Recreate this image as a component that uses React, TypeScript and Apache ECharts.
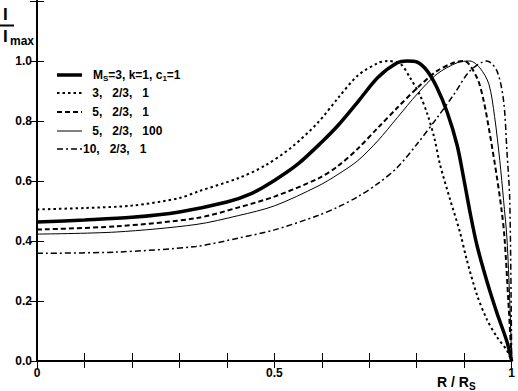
import React, { useEffect, useRef } from "react";
import * as echarts from "echarts";

// ---- data (x = R/Rs, y = I/Imax) ----
const curveMs3k1: [number, number][] = [
  [0, 0.463], [0.1, 0.47], [0.2, 0.479], [0.3, 0.497], [0.4, 0.53], [0.45, 0.557],
  [0.5, 0.602], [0.55, 0.657], [0.6, 0.73], [0.634, 0.785], [0.676, 0.864],
  [0.718, 0.945], [0.759, 0.994], [0.78, 1.0], [0.801, 0.996], [0.822, 0.967],
  [0.843, 0.91], [0.864, 0.83], [0.885, 0.72], [0.9, 0.6], [0.913, 0.49],
  [0.927, 0.385], [0.948, 0.265], [0.969, 0.16], [0.99, 0.065], [1, 0],
];
const curve3: [number, number][] = [
  [0, 0.505], [0.1, 0.51], [0.2, 0.518], [0.3, 0.543], [0.341, 0.566], [0.425, 0.61],
  [0.48, 0.651], [0.536, 0.712], [0.592, 0.795], [0.634, 0.876], [0.676, 0.952],
  [0.718, 0.993], [0.738, 1.0], [0.766, 0.99], [0.786, 0.944], [0.807, 0.885],
  [0.822, 0.825], [0.837, 0.744], [0.849, 0.655], [0.87, 0.54], [0.891, 0.43],
  [0.905, 0.34], [0.927, 0.22], [0.948, 0.138], [0.969, 0.08], [0.99, 0.035], [1, 0],
];
const curve5: [number, number][] = [
  [0, 0.438], [0.167, 0.449], [0.335, 0.476], [0.425, 0.512], [0.5, 0.548],
  [0.592, 0.608], [0.634, 0.65], [0.676, 0.708], [0.718, 0.777], [0.759, 0.844],
  [0.801, 0.91], [0.843, 0.967], [0.879, 0.995], [0.9, 1.0], [0.927, 0.944],
  [0.941, 0.867], [0.954, 0.757], [0.969, 0.612], [0.979, 0.5], [0.985, 0.41],
  [0.993, 0.2], [1, 0],
];
const curve5c100: [number, number][] = [
  [0, 0.423], [0.167, 0.43], [0.335, 0.455], [0.425, 0.485], [0.5, 0.517],
  [0.592, 0.583], [0.634, 0.622], [0.676, 0.668], [0.718, 0.734], [0.759, 0.811],
  [0.801, 0.89], [0.843, 0.957], [0.885, 0.994], [0.912, 1.0], [0.933, 0.977],
  [0.952, 0.923], [0.964, 0.815], [0.975, 0.668], [0.983, 0.535], [0.99, 0.41],
  [0.996, 0.2], [1, 0],
];
const curve10: [number, number][] = [
  [0, 0.359], [0.167, 0.363], [0.335, 0.382], [0.425, 0.41], [0.5, 0.437],
  [0.592, 0.485], [0.634, 0.513], [0.676, 0.548], [0.718, 0.591], [0.759, 0.645],
  [0.801, 0.724], [0.843, 0.811], [0.879, 0.89], [0.912, 0.967], [0.948, 1.0],
  [0.969, 0.967], [0.983, 0.867], [0.99, 0.7], [0.996, 0.535], [1, 0],
];

const xLabelValues = [0, 0.5, 1];
const xLabelTexts = ["0", "0.5", "1"];
const legendTexts = [
  "{a|M}{s|S}{a|=3, k=1, c}{s|1}{a|=1}",
  "{a| 3,   2/3,   1}",
  "{a| 5,   2/3,   1}",
  "{a| 5,   2/3,   100}",
  "{a|10,   2/3,   1}",
];

const FONT = "'Liberation Sans', Arial, sans-serif";

export default function App() {
  const ref = useRef<HTMLDivElement>(null);
  useEffect(() => {
    if (!ref.current) return;
    const chart = echarts.init(ref.current, undefined, { renderer: "svg" });

    const styles = [
      { width: 3.5, type: "solid" as any },
      { width: 2, type: [2.5, 3] as any },
      { width: 2, type: [5, 3] as any },
      { width: 1, type: "solid" as any },
      { width: 1.5, type: [6, 3, 2, 3] as any },
    ];
    const datasets = [curveMs3k1, curve3, curve5, curve5c100, curve10];

    const series = datasets.map((d, i) => ({
      type: "line",
      data: d,
      showSymbol: false,
      smooth: 0.3,
      xAxisIndex: 0,
      yAxisIndex: 0,
      lineStyle: { color: "#000", width: styles[i].width, type: styles[i].type, cap: "butt" },
      silent: true,
    }));

    const legendRowsY = [75, 93, 112, 131, 149];
    const legendTextX = [93, 89, 89, 89, 83];
    const legendGraphics: any[] = [];
    legendRowsY.forEach((y, i) => {
      legendGraphics.push({
        type: "line",
        shape: { x1: 57, y1: y, x2: 82, y2: y },
        style: {
          stroke: "#000",
          lineWidth: styles[i].width,
          lineDash: Array.isArray(styles[i].type) ? styles[i].type : null,
        },
      });
      legendGraphics.push({
        type: "text",
        x: legendTextX[i],
        y: y,
        style: {
          text: legendTexts[i],
          verticalAlign: "middle",
          rich: {
            a: { font: `bold 12px ${FONT}`, fill: "#000" },
            s: { font: `bold 8px ${FONT}`, fill: "#000", padding: [6, 0, 0, 0] },
          },
        },
      });
    });

    chart.setOption({
      animation: false,
      backgroundColor: "#fff",
      grid: { left: 37, right: 2, top: 1, bottom: 30, containLabel: false },
      xAxis: [
        {
          type: "value",
          min: 0,
          max: 1,
          interval: 0.1,
          position: "bottom",
          axisLine: { lineStyle: { color: "#000", width: 2 } },
          axisTick: { inside: true, length: 8, lineStyle: { color: "#000", width: 1 } },
          splitLine: { show: false },
          axisLabel: {
            color: "#000",
            fontWeight: "bold",
            fontSize: 12,
            fontFamily: FONT,
            margin: 6,
            showMinLabel: true,
            showMaxLabel: true,
            formatter: (v: number) => {
              const idx = xLabelValues.findIndex((t) => Math.abs(t - v) < 1e-6);
              return idx >= 0 ? xLabelTexts[idx] : "";
            },
          },
        },
        {
          type: "value",
          min: 0,
          max: 1,
          interval: 0.1,
          position: "top",
          axisLine: { lineStyle: { color: "#000", width: 1.5 } },
          axisTick: { inside: true, length: 7, lineStyle: { color: "#000", width: 1 } },
          splitLine: { show: false },
          axisLabel: { show: false },
        },
      ],
      yAxis: [
        {
          type: "value",
          min: 0,
          max: 1.2,
          interval: 0.2,
          position: "left",
          axisLine: { lineStyle: { color: "#000", width: 2 } },
          axisTick: { inside: true, length: 7, lineStyle: { color: "#000", width: 1 } },
          splitLine: { show: false },
          axisLabel: {
            color: "#000",
            fontWeight: "bold",
            fontSize: 12,
            fontFamily: FONT,
            margin: 5,
            formatter: (v: number) => (v > 1.1 ? "" : v.toFixed(1)),
          },
        },
        {
          type: "value",
          min: 0,
          max: 1.2,
          interval: 0.2,
          position: "right",
          axisLine: { lineStyle: { color: "#000", width: 2 } },
          axisTick: { inside: true, length: 7, lineStyle: { color: "#000", width: 1 } },
          splitLine: { show: false },
          axisLabel: { show: false },
        },
      ],
      series,
      graphic: [
        {
          type: "text",
          x: 3,
          y: 14,
          style: { text: "I", font: `bold 17px ${FONT}`, fill: "#000", verticalAlign: "middle" },
        },
        {
          type: "line",
          shape: { x1: 0, y1: 25.5, x2: 14, y2: 25.5 },
          style: { stroke: "#000", lineWidth: 2 },
        },
        {
          type: "text",
          x: 3,
          y: 36.5,
          style: { text: "I", font: `bold 17px ${FONT}`, fill: "#000", verticalAlign: "middle" },
        },
        {
          type: "text",
          x: 10,
          y: 41,
          style: { text: "max", font: `bold 12px ${FONT}`, fill: "#000", verticalAlign: "middle" },
        },
        {
          type: "text",
          x: 437,
          y: 382,
          style: { text: "R / R", font: `bold 14px ${FONT}`, fill: "#000", verticalAlign: "middle" },
        },
        {
          type: "text",
          x: 469,
          y: 386,
          style: { text: "S", font: `bold 10px ${FONT}`, fill: "#000", verticalAlign: "middle" },
        },
        ...legendGraphics,
      ],
    });
    return () => chart.dispose();
  }, []);
  return (
    <div
      ref={ref}
      style={{ position: "absolute", left: 0, top: 0, width: 518, height: 391 }}
    />
  );
}
